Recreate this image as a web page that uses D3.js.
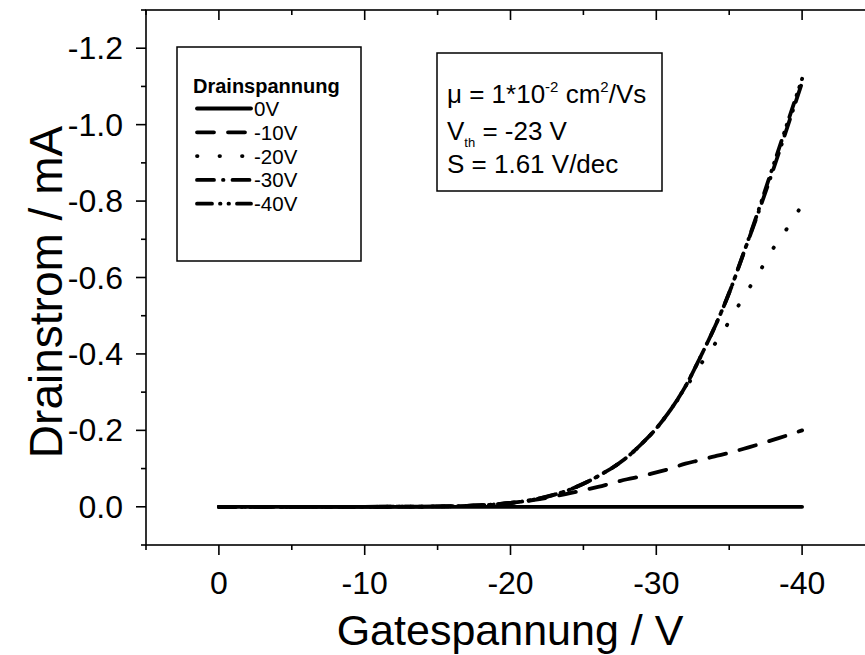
<!DOCTYPE html>
<html><head><meta charset="utf-8">
<script src="https://cdn.jsdelivr.net/npm/d3@7"></script>
<style>body{margin:0;background:#fff}svg{display:block}text{font-family:"Liberation Sans",Arial,sans-serif;fill:#000}</style>
</head><body>
<svg id="c" width="865" height="655"></svg>
<script>
// Data
const gate = [0,-5,-10,-15,-18,-20,-22,-24,-26,-28,-29,-30,-31,-32,-33,-34,-35,-36,-37,-38,-39,-40];
const drainLabels = ["0V","-10V","-20V","-30V","-40V"];
const id0V  = [0,0,0,0,0,0,0,0,0,0,0,0,0,0,0,0,0,0,0,0,0,0];
const id10V = [0,0,0,-0.001,-0.004,-0.01,-0.02,-0.035,-0.052,-0.072,-0.08,-0.09,-0.1,-0.113,-0.122,-0.132,-0.141,-0.152,-0.163,-0.175,-0.187,-0.2];
const id20V = [0,0,0,-0.001,-0.004,-0.01,-0.022,-0.044,-0.08,-0.13,-0.165,-0.205,-0.255,-0.31,-0.37,-0.425,-0.485,-0.55,-0.61,-0.675,-0.73,-0.79];
const id30V = [0,0,0,-0.001,-0.004,-0.01,-0.022,-0.044,-0.08,-0.13,-0.165,-0.205,-0.255,-0.315,-0.39,-0.47,-0.56,-0.665,-0.77,-0.88,-0.995,-1.11];
const id40V = [0,0,0,-0.001,-0.004,-0.01,-0.022,-0.044,-0.08,-0.13,-0.165,-0.205,-0.255,-0.315,-0.39,-0.47,-0.56,-0.665,-0.775,-0.89,-1.005,-1.12];
const xTicks = [0,-10,-20,-30,-40];
const yTicks = [-1.2,-1.0,-0.8,-0.6,-0.4,-0.2,0.0];

const series = [id0V,id10V,id20V,id30V,id40V];
const dashes = [null,"17,14","0.5,22","17,9,0.5,9","15,8,0.5,8,0.5,8"];

const svg = d3.select("#c");
const L=146,R=875,T=10,B=545;
const x = d3.scaleLinear().domain([5,-45]).range([L,R]);
const y = d3.scaleLinear().domain([0.1,-1.3]).range([B,T]);

// curves
const line = d3.line().x(d=>x(d[0])).y(d=>y(d[1])).curve(d3.curveMonotoneX);
series.forEach((s,i)=>{
  svg.append("path").datum(gate.map((g,j)=>[g,s[j]]))
    .attr("d",line).attr("fill","none").attr("stroke","#000")
    .attr("stroke-width",3.8).attr("stroke-linecap","round")
    .attr("stroke-dasharray",dashes[i]);
});

// axes
const majX = xTicks, minX = d3.range(5,-45.1,-5).filter(v=>!xTicks.includes(v));
const minY = d3.range(0.1,-1.31,-0.1).map(v=>+v.toFixed(1)).filter(v=>!yTicks.some(t=>Math.abs(t-v)<1e-6));
const ax = svg.append("g").attr("stroke","#000").attr("stroke-width",1.6);
ax.append("rect").attr("x",L).attr("y",T).attr("width",R-L).attr("height",B-T).attr("fill","none");
majX.forEach(v=>{
  ax.append("line").attr("x1",x(v)).attr("x2",x(v)).attr("y1",B).attr("y2",B+10);
  ax.append("line").attr("x1",x(v)).attr("x2",x(v)).attr("y1",T).attr("y2",T+10);
});
minX.forEach(v=>{
  ax.append("line").attr("x1",x(v)).attr("x2",x(v)).attr("y1",B).attr("y2",B+5);
  ax.append("line").attr("x1",x(v)).attr("x2",x(v)).attr("y1",T).attr("y2",T+5);
});
yTicks.forEach(v=>{
  ax.append("line").attr("x1",L-10).attr("x2",L).attr("y1",y(v)).attr("y2",y(v));
  ax.append("line").attr("x1",R-10).attr("x2",R).attr("y1",y(v)).attr("y2",y(v));
});
minY.forEach(v=>{
  ax.append("line").attr("x1",L-5).attr("x2",L).attr("y1",y(v)).attr("y2",y(v));
  ax.append("line").attr("x1",R-5).attr("x2",R).attr("y1",y(v)).attr("y2",y(v));
});
majX.forEach(v=>svg.append("text").attr("x",x(v)).attr("y",594).attr("text-anchor","middle")
  .attr("font-size",32).text(String(v)));
yTicks.forEach(v=>svg.append("text").attr("x",123).attr("y",y(v)+11).attr("text-anchor","end")
  .attr("font-size",32).text(v.toFixed(1)));

svg.append("text").attr("transform","translate(62,292) rotate(-90)").attr("text-anchor","middle")
  .attr("font-size",46).text("Drainstrom / mA");
svg.append("text").attr("x",510).attr("y",645).attr("text-anchor","middle")
  .attr("font-size",43).text("Gatespannung / V");

// legend
svg.append("rect").attr("x",177).attr("y",47).attr("width",184).attr("height",214)
  .attr("fill","#fff").attr("stroke","#000").attr("stroke-width",1.5);
svg.append("text").attr("x",193).attr("y",93).attr("font-size",20).attr("font-weight","bold").text("Drainspannung");
drainLabels.forEach((lab,i)=>{
  const yy = 108.5 + i*23.8;
  svg.append("line").attr("x1",197).attr("x2",251).attr("y1",yy).attr("y2",yy)
    .attr("stroke","#000").attr("stroke-width",3.8).attr("stroke-linecap","round")
    .attr("stroke-dasharray",dashes[i]);
  svg.append("text").attr("x",254).attr("y",yy+7.5).attr("font-size",20.5).text(lab);
});

// annotation
svg.append("rect").attr("x",437).attr("y",53).attr("width",225).attr("height",138)
  .attr("fill","#fff").attr("stroke","#000").attr("stroke-width",1.5);
const t1 = svg.append("text").attr("x",447).attr("y",103).attr("font-size",26);
t1.append("tspan").text("μ = 1*10");
t1.append("tspan").attr("dy",-11).attr("font-size",15).text("-2");
t1.append("tspan").attr("dy",11).text(" cm");
t1.append("tspan").attr("dy",-11).attr("font-size",15).text("2");
t1.append("tspan").attr("dy",11).text("/Vs");
const t2 = svg.append("text").attr("x",447).attr("y",140).attr("font-size",26);
t2.append("tspan").text("V");
t2.append("tspan").attr("dy",7).attr("font-size",13).text("th");
t2.append("tspan").attr("dy",-7).text(" = -23 V");
svg.append("text").attr("x",447).attr("y",173).attr("font-size",26).text("S = 1.61 V/dec");
</script>
</body></html>
